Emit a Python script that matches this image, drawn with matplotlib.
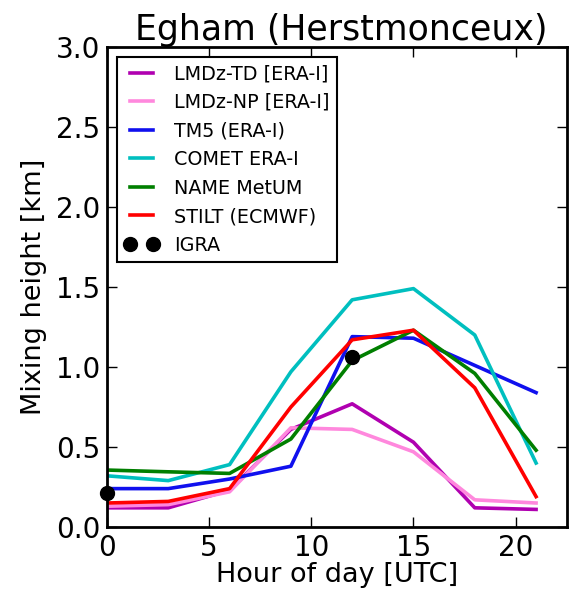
import matplotlib
matplotlib.use("Agg")
import matplotlib.pyplot as plt

hours = [0, 3, 6, 9, 12, 15, 18, 21]
lmdz_td = [0.12, 0.12, 0.23, 0.61, 0.77, 0.53, 0.12, 0.11]
lmdz_np = [0.13, 0.14, 0.22, 0.62, 0.61, 0.47, 0.17, 0.15]
tm5 = [0.24, 0.24, 0.30, 0.38, 1.19, 1.18, 1.01, 0.84]
comet = [0.32, 0.29, 0.39, 0.97, 1.42, 1.49, 1.20, 0.40]
name = [0.356, 0.345, 0.335, 0.55, 1.04, 1.23, 0.96, 0.48]
stilt = [0.15, 0.16, 0.24, 0.75, 1.17, 1.23, 0.87, 0.19]
igra_hours = [0, 12]
igra = [0.21, 1.06]

series = [
    ("LMDz-TD [ERA-I]", lmdz_td, "#b000b0"),
    ("LMDz-NP [ERA-I]", lmdz_np, "#ff88dd"),
    ("TM5 (ERA-I)", tm5, "#1010ee"),
    ("COMET ERA-I", comet, "#00bfbf"),
    ("NAME MetUM", name, "#007f00"),
    ("STILT (ECMWF)", stilt, "#ff0000"),
]

fig = plt.figure(figsize=(5.69, 5.98), dpi=100)
ax = fig.add_axes([0.188, 0.1187, 0.808, 0.8027])
for lab, vals, col in series:
    ax.plot(hours, vals, color=col, lw=2.6, label=lab)
ax.plot(igra_hours, igra, "o", color="black", ms=10, label="IGRA", clip_on=False, zorder=5)

ax.set_xlim(0, 22.5)
ax.set_ylim(0, 3.0)
ax.set_xticks([0, 5, 10, 15, 20])
ax.set_yticks([0.0, 0.5, 1.0, 1.5, 2.0, 2.5, 3.0])
ax.yaxis.set_major_formatter(matplotlib.ticker.FormatStrFormatter("%.1f"))
ax.tick_params(direction="in", top=True, right=True, length=7, width=1, labelsize=20, pad=5)
for s in ax.spines.values():
    s.set_linewidth(2)
ax.set_xlabel("Hour of day [UTC]", fontsize=19.5, labelpad=0)
ax.set_ylabel("Mixing height [km]", fontsize=19.5, labelpad=6)
ax.set_title("Egham (Herstmonceux)", fontsize=25, pad=5, x=0.51)
leg = ax.legend(loc="upper left", fontsize=13.8, numpoints=2, fancybox=False,
                edgecolor="black", framealpha=1, handlelength=1.8,
                borderaxespad=0.5, labelspacing=0.5, bbox_to_anchor=(0.0, 1.0))
leg.get_frame().set_linewidth(1.5)
fig.savefig("out.png", dpi=100)
